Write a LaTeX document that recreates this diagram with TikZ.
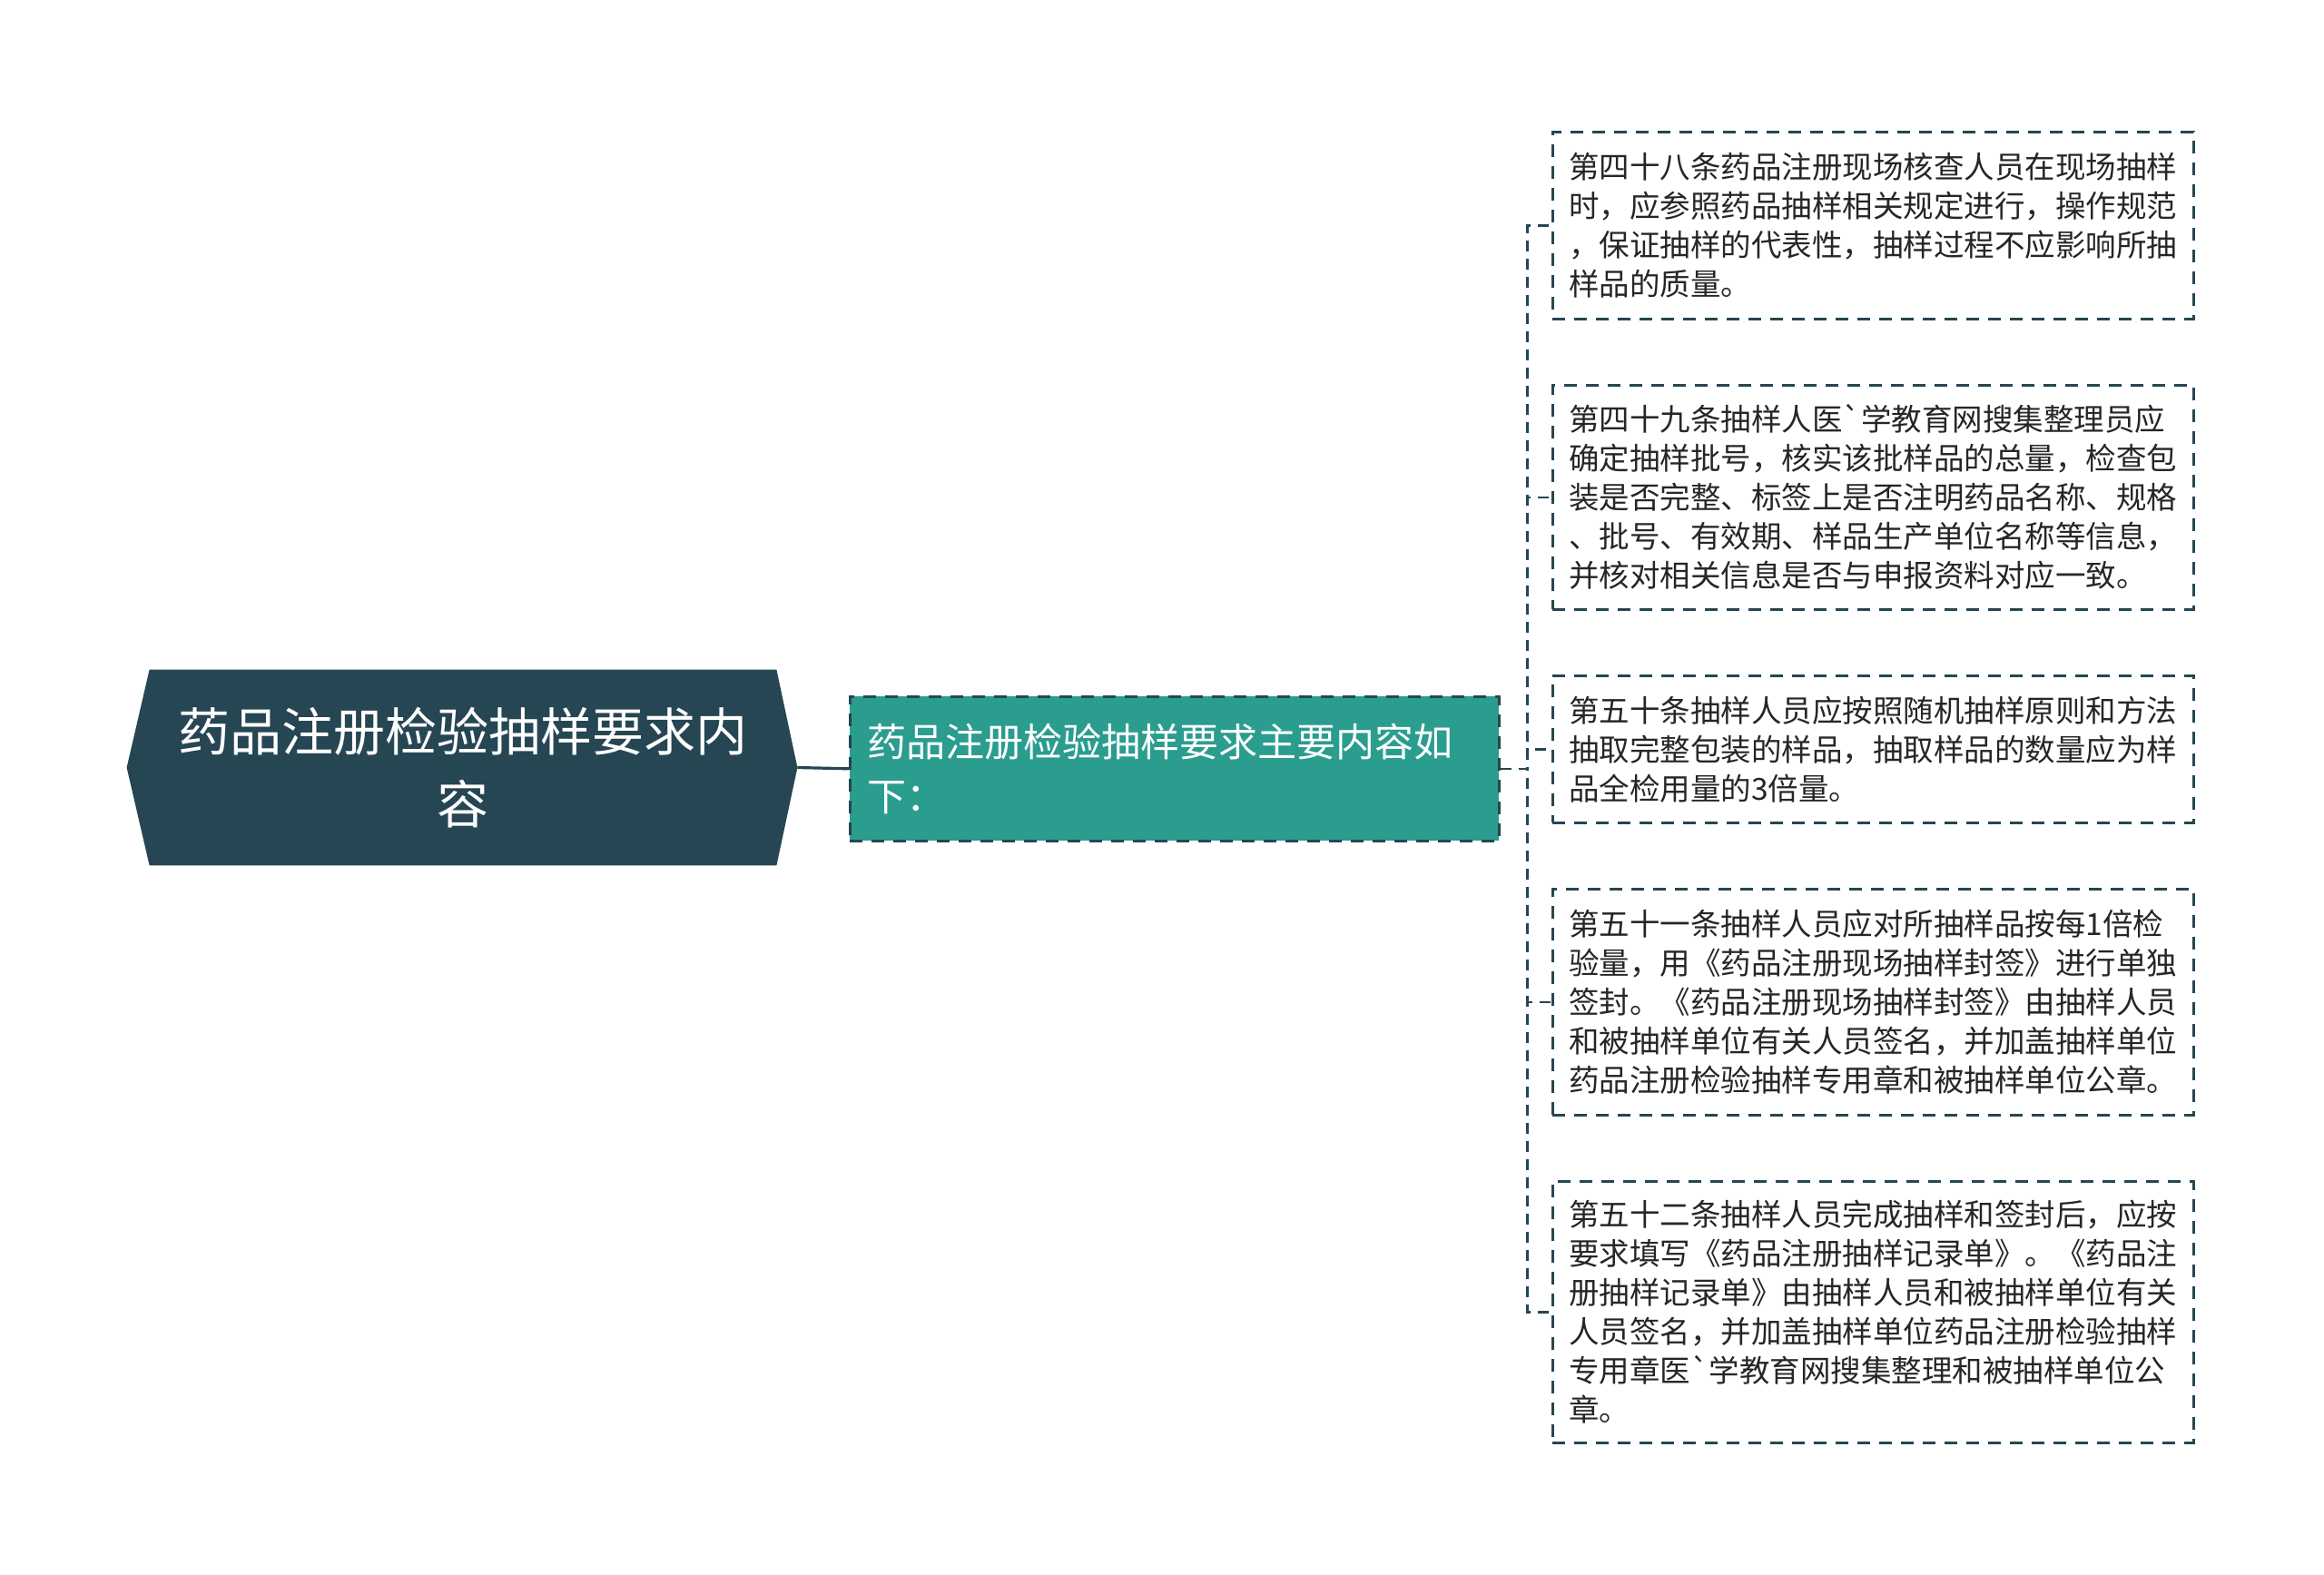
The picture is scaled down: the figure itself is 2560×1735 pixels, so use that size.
\documentclass[tikz,border=0pt]{standalone}
\usepackage{fontspec}
\newfontfamily\cjk{Noto Sans CJK SC}
\usetikzlibrary{backgrounds,calc}
\definecolor{rootc}{HTML}{264653}
\definecolor{subc}{HTML}{2A9D8F}
\definecolor{linec}{HTML}{264653}
\definecolor{txtc}{HTML}{262626}
\begin{document}
\begin{tikzpicture}[x=0.5pt,y=-0.5pt,
  rootbox/.style={minimum width=345pt, minimum height=107.5pt, inner sep=0pt, align=center, text=white,
    font=\cjk\fontsize{28.5pt}{40pt}\selectfont},
  subbox/.style={anchor=north west, fill=subc, draw=linec, line width=1.3pt, dash pattern=on 7pt off 5pt,
    text width=338.5pt, inner xsep=9.5pt, inner ysep=0pt, minimum height=79.5pt, align=left, text=white,
    font=\cjk\fontsize{21.5pt}{30pt}\selectfont},
  leafbox/.style={anchor=north west, fill=white, draw=linec, line width=1.3pt, dash pattern=on 7pt off 5pt,
    text width=335pt, inner xsep=9pt, inner ysep=0pt, align=left, text=txtc,
    font=\cjk\fontsize{16.75pt}{21.5pt}\selectfont},
  link/.style={draw=linec, line width=1.6pt},
  dlink/.style={draw=linec, line width=1.3pt, dash pattern=on 6pt off 4pt}
]
\useasboundingbox (0,0) rectangle (2560,1735);

% root
\node[rootbox] (root) at (510,845.5) {药品注册检验抽样要求内\\容};
\coordinate (rootR) at ($(root.east)+(23,0)$);
\coordinate (rootL) at ($(root.west)+(-25,0)$);
\begin{scope}[on background layer]
  \fill[rootc] (root.north west) -- (root.north east) -- (rootR) -- (root.south east)
     -- (root.south west) -- (rootL) -- cycle;
\end{scope}

% second level
\node[subbox] (sub) at (935,766) {药品注册检验抽样要求主要内容如\\下：};

% leaves
\node[leafbox, minimum height=103pt] (l1) at (1709,144)
  {第四十八条药品注册现场核查人员在现场抽样\\时，应参照药品抽样相关规定进行，操作规范\\，保证抽样的代表性，抽样过程不应影响所抽\\样品的质量。};
\node[leafbox, minimum height=123.5pt] (l2) at (1709,423)
  {第四十九条抽样人医\symbol{96}学教育网搜集整理员应\\确定抽样批号，核实该批样品的总量，检查包\\装是否完整、标签上是否注明药品名称、规格\\、批号、有效期、样品生产单位名称等信息，\\并核对相关信息是否与申报资料对应一致。};
\node[leafbox, minimum height=81pt] (l3) at (1709,743)
  {第五十条抽样人员应按照随机抽样原则和方法\\抽取完整包装的样品，抽取样品的数量应为样\\品全检用量的3倍量。};
\node[leafbox, minimum height=124.5pt] (l4) at (1709,978)
  {第五十一条抽样人员应对所抽样品按每1倍检\\验量，用《药品注册现场抽样封签》进行单独\\签封。《药品注册现场抽样封签》由抽样人员\\和被抽样单位有关人员签名，并加盖抽样单位\\药品注册检验抽样专用章和被抽样单位公章。};
\node[leafbox, minimum height=144pt] (l5) at (1709,1300)
  {第五十二条抽样人员完成抽样和签封后，应按\\要求填写《药品注册抽样记录单》。《药品注\\册抽样记录单》由抽样人员和被抽样单位有关\\人员签名，并加盖抽样单位药品注册检验抽样\\专用章医\symbol{96}学教育网搜集整理和被抽样单位公\\章。};

% connectors
\draw[link] (rootR) -- (sub.west);
\coordinate (trunk) at ($(sub.east)+(30,0)$);
\foreach \n in {l1,l2,l3,l4,l5}
  \draw[dlink] (sub.east) -- (trunk) |- (\n.west);
\end{tikzpicture}
\end{document}
